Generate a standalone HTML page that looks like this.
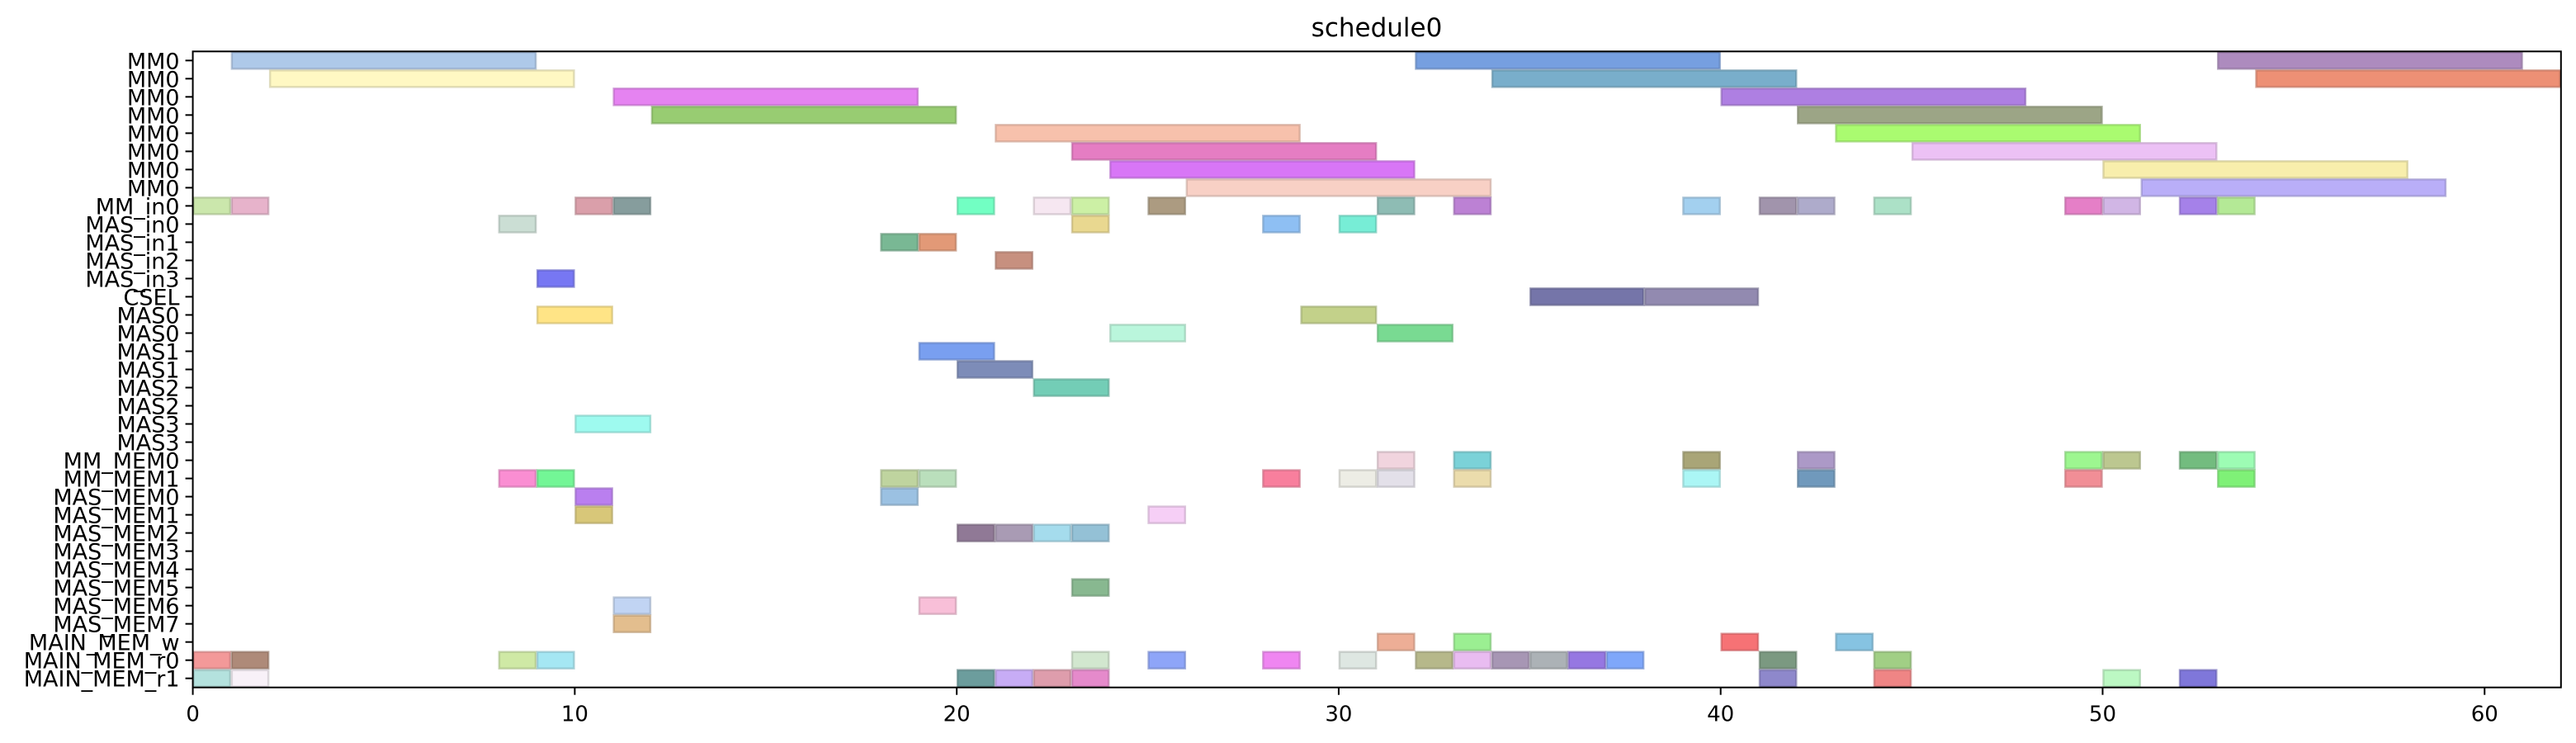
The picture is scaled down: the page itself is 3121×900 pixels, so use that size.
<!DOCTYPE html>
<html><head><meta charset="utf-8"><style>
html,body{margin:0;padding:0;background:#fff;}
svg{display:block;font-family:"DejaVu Sans","Liberation Sans",sans-serif;}
</style></head><body>
<svg id="chart" width="3121" height="900" viewBox="0 0 3121 900" xmlns="http://www.w3.org/2000/svg">
<text x="1668" y="44" font-size="31" text-anchor="middle">schedule0</text>
<g id="bars"></g>
<g id="axes"></g>
</svg>
<script>
const rowLabels = ["MM0","MM0","MM0","MM0","MM0","MM0","MM0","MM0","MM_in0","MAS_in0","MAS_in1","MAS_in2","MAS_in3","CSEL","MAS0","MAS0","MAS1","MAS1","MAS2","MAS2","MAS3","MAS3","MM_MEM0","MM_MEM1","MAS_MEM0","MAS_MEM1","MAS_MEM2","MAS_MEM3","MAS_MEM4","MAS_MEM5","MAS_MEM6","MAS_MEM7","MAIN_MEM_w","MAIN_MEM_r0","MAIN_MEM_r1"];
const xTicks = [0,10,20,30,40,50,60];
const taskRow = [0,0,0,1,1,1,2,2,3,3,4,4,5,5,6,6,7,7,
8,8,8,8,8,8,8,8,8,8,8,8,8,8,8,8,8,8,
9,9,9,9,10,10,11,12,13,13,14,14,15,15,16,17,18,20,
22,22,22,22,22,22,22,22,
23,23,23,23,23,23,23,23,23,23,23,23,
24,24,25,25,26,26,26,26,29,30,30,31,
32,32,32,32,
33,33,33,33,33,33,33,33,33,33,33,33,33,33,33,33,
34,34,34,34,34,34,34,34,34,34];
const taskStart = [1,32,53,2,34,54,11,40,12,42,21,43,23,45,24,50,26,51,
0,1,10,11,20,22,23,25,31,33,39,41,42,44,49,50,52,53,
8,23,28,30,18,19,21,9,35,38,9,29,24,31,19,20,22,10,
31,33,39,42,49,50,52,53,
8,9,18,19,28,30,31,33,39,42,49,53,
10,18,10,25,20,21,22,23,23,11,19,11,
31,33,40,43,
0,1,8,9,23,25,28,30,32,33,34,35,36,37,41,44,
0,1,20,21,22,23,41,44,50,52];
const taskEnd = [9,40,61,10,42,62,19,48,20,50,29,51,31,53,32,58,34,59,
1,2,11,12,21,23,24,26,32,34,40,42,43,45,50,51,53,54,
9,24,29,31,19,20,22,10,38,41,11,31,26,33,21,22,24,12,
32,34,40,43,50,51,53,54,
9,10,19,20,29,31,32,34,40,43,50,54,
11,19,11,26,21,22,23,24,24,12,20,12,
32,34,41,44,
1,2,9,10,24,26,29,31,33,34,35,36,37,38,42,45,
1,2,21,22,23,24,42,45,51,53];
const taskColor = ['#aac6e8','#6f9ade','#a985bb','#fff8c0','#72aac8','#ec8a6e','#e47cf0','#aa78e0','#92c96a','#97a07f','#f7bea8','#a5fb68','#e476c0','#ebbef4','#d66ff5','#f8eda8','#f8cec2','#b5aaf8',
'#c8e6a8','#e6afc8','#d89aa5','#7f9898','#6affc0','#f5e6f0','#c9efa0','#a8967a','#88b8b0','#b87ad2','#9ecdee','#9c8ea8','#aaa6c8','#a8dfc4','#e478c4','#cfb2e4','#a07ae8','#b0e890',
'#c8dcd2','#e8d68a','#88bcf2','#70ecd4','#72b48e','#e09370','#c48a78','#7070f2','#6e6ea4','#8c84ac','#ffe380','#c0cf84','#b6f5da','#72d88c','#729aef','#7686b4','#6ccab2','#99faee',
'#f0d2dc','#74d0d6','#a4a070','#a894c4','#98f58a','#b8c48a','#6cb878','#98fcb0',
'#fa88d0','#6cf590','#bcd29a','#b6ddb8','#f87898','#ececE4','#e2dee8','#eadaa8','#a6f6f4','#6894b8','#f08890','#78f070',
'#b678ee','#96bee0','#d6c472','#f5ccf5','#8a7290','#a496b0','#a0daec','#8ebed4','#82b48a','#bed2f2','#f8bcd6','#e2ba88',
'#ecaa90','#96ee8c','#f66a6e','#80c0e0',
'#f29494','#aa8472','#cce8a0','#a0e6f2','#d0e6cc','#88a0f8','#ee80f0','#dce6e0','#b2b484','#e8b8f0','#a290b0','#a8aeb2','#9070e0','#78a2fa','#74947a','#9ccc7e',
'#b0e0dc','#f8f0f8','#649898','#c4a8f4','#dc98a8','#e484c8','#8882c8','#ee7e7e','#b8f8c0','#7870d8'];

const NS='http://www.w3.org/2000/svg';
const L=233.6,R=3102.8,T=62.3,B=832.7,XMAX=62;
const rowH=(B-T)/rowLabels.length;
function xs(v){return L+(R-L)*v/XMAX;}
function ys(i){return T+rowH*i;}
function darken(h){const n=parseInt(h.slice(1),16);const f=0.8;
const r=Math.round(((n>>16)&255)*f),g=Math.round(((n>>8)&255)*f),b=Math.round((n&255)*f);return `rgb(${r},${g},${b})`;}
const bars=document.getElementById('bars'),axes=document.getElementById('axes');
for(let k=0;k<taskRow.length;k++){
  const r=document.createElementNS(NS,'rect');
  
  
  const x0=xs(taskStart[k]),x1=xs(taskEnd[k]);
  r.setAttribute('x',x0+1);r.setAttribute('y',ys(taskRow[k])+1);
  r.setAttribute('width',x1-x0-2);r.setAttribute('height',rowH-2);
  r.setAttribute('fill',taskColor[k]);r.setAttribute('fill-opacity','0.95');
  r.setAttribute('stroke',darken(taskColor[k]));r.setAttribute('stroke-opacity','0.6');r.setAttribute('stroke-width','2.5');
  bars.appendChild(r);
}
const frame=document.createElementNS(NS,'rect');


frame.setAttribute('x',L);frame.setAttribute('y',T);frame.setAttribute('width',R-L);frame.setAttribute('height',B-T);
frame.setAttribute('fill','none');frame.setAttribute('stroke','#000');frame.setAttribute('stroke-width','2');
axes.appendChild(frame);
rowLabels.forEach((lab,i)=>{
  const y=ys(i)+rowH/2;
  const t=document.createElementNS(NS,'line');
  
  
  t.setAttribute('x1',L-9);t.setAttribute('x2',L);t.setAttribute('y1',y);t.setAttribute('y2',y);
  t.setAttribute('stroke','#000');t.setAttribute('stroke-width','2');axes.appendChild(t);
  const tx=document.createElementNS(NS,'text');
  
  
  tx.setAttribute('x',L-16);tx.setAttribute('y',y+10);tx.setAttribute('font-size','27');tx.setAttribute('text-anchor','end');
  tx.textContent=lab;axes.appendChild(tx);
});
xTicks.forEach(v=>{
  const x=xs(v);
  const t=document.createElementNS(NS,'line');
  
  
  t.setAttribute('x1',x);t.setAttribute('x2',x);t.setAttribute('y1',B);t.setAttribute('y2',B+9);
  t.setAttribute('stroke','#000');t.setAttribute('stroke-width','2');axes.appendChild(t);
  const tx=document.createElementNS(NS,'text');
  
  
  tx.setAttribute('x',x);tx.setAttribute('y',B+41);tx.setAttribute('font-size','26');tx.setAttribute('text-anchor','middle');
  tx.textContent=String(v);axes.appendChild(tx);
});
</script>
</body></html>
